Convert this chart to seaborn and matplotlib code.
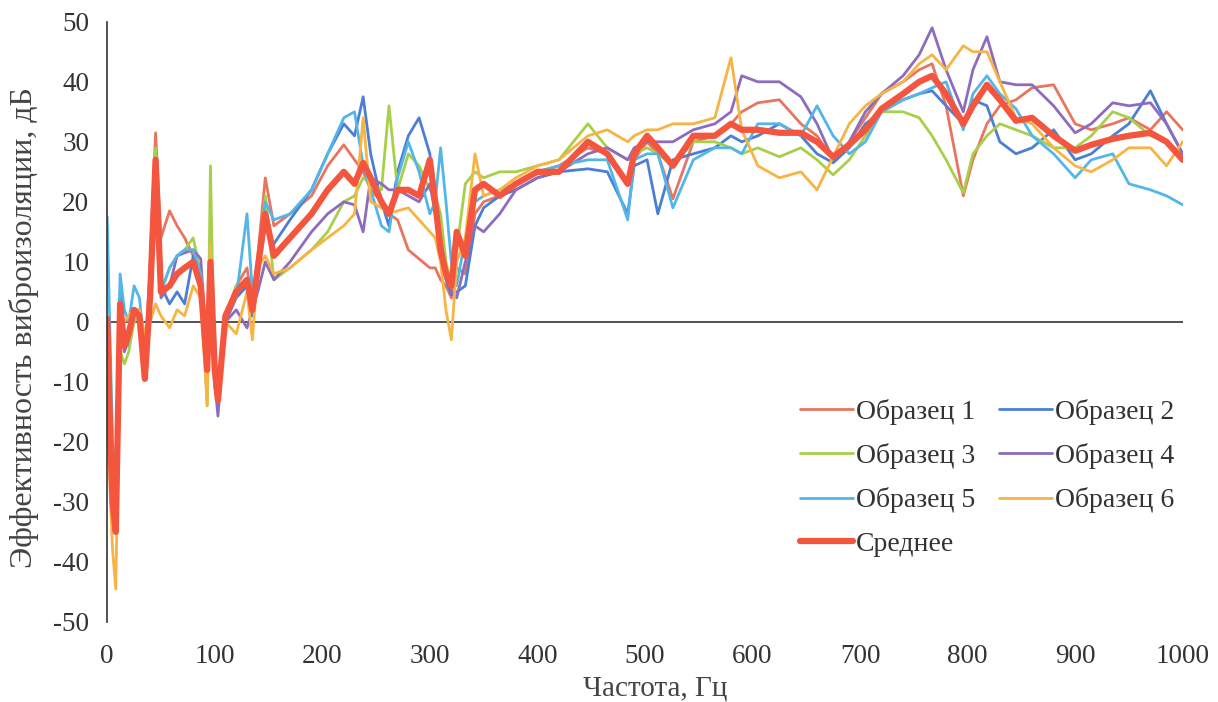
import numpy as np
import pandas as pd
import seaborn as sns
from matplotlib import pyplot as plt

# Frequency grid, Hz (shared by all curves)
freq = [0, 3, 5, 8, 12, 16, 20, 25, 30, 35,
        40, 45, 50, 58, 65, 72, 80, 87, 93, 96,
        100, 103, 110, 120, 130, 135, 140, 147, 155, 170,
        190, 205, 220, 230, 238, 245, 255, 262, 270, 280,
        290, 300, 305, 310, 315, 320, 325, 333, 342, 350,
        365, 380, 400, 420, 447, 465, 484, 490, 502, 512,
        526, 545, 565, 580, 590, 605, 625, 645, 660, 675,
        690, 705, 720, 740, 755, 767, 780, 796, 805, 818,
        830, 845, 860, 880, 900, 915, 935, 950, 970, 985,
        1000]

sample1 = [-5, -22, -30, -33, 4, -3, -1, 2, 2, -8,
           10, 31.5, 14, 18.5, 16, 14, 11, 6, -7, 9,
           -8, -12, 1, 6, 9, 3, 11, 24, 16, 18,
           21, 26, 29.5, 27, 25, 22, 20, 18, 17, 12,
           10.5, 9, 9, 7, 6, 4, 9, 8, 18, 20,
           21, 23, 25, 26, 29, 28, 23, 27, 30, 28,
           20.5, 30, 31, 33, 35, 36.5, 37, 33, 31, 27,
           30, 34, 38, 40, 42, 43, 36, 21, 27, 33,
           36, 37, 39, 39.5, 33, 32, 33, 34, 32, 35,
           32]

sample2 = [0, -18, -28, -30, 5, -3, -4, 1, 2, -7,
           3, 27, 6, 3, 5, 3, 11, 7, -9, 9,
           -9, -14, 0, 4, 6, 1, 8, 16, 13, 17,
           22, 28, 33, 31, 37.5, 28, 20, 16, 25, 31,
           34, 28, 20, 11, 7, 4.5, 5, 6, 16, 19,
           21, 22, 24, 25, 25.5, 25, 18, 26, 27, 18,
           27, 28, 29, 31, 30, 31, 33, 31, 28, 26.5,
           29, 33, 35, 37, 38, 38.5, 36, 33, 37, 36,
           30, 28, 29, 32, 27, 28, 31, 33, 38.5, 33,
           28]

sample3 = [-2, -15, -25, -30, -5, -7, -5, 0, 1, -6,
           3, 29, 5, 9, 11, 12, 14, 8, -14, 26,
           -10, -13, 0, 6, 7, 3, 8, 21, 7, 9,
           12, 15, 20, 21, 24, 23, 22, 36, 22, 28,
           26, 22, 21, 18, 10, 6, 12, 23, 25, 24,
           25, 25, 26, 27, 33, 29, 27, 28, 29, 28,
           26, 30, 30, 29, 28, 29, 27.5, 29, 27, 24.5,
           27, 31, 35, 35, 34, 31, 27, 21.5, 28, 31,
           33, 32, 31, 29, 29, 31, 35, 34, 31, 30,
           28]

sample4 = [-5, -25, -33, -28, 3, -5, -3, 1, 2, -8,
           4, 25, 4, 6, 11, 11.5, 12, 10.5, -6, 5,
           -10, -15.7, 0, 2, -1, 2, 5, 10, 7, 10,
           15, 18, 20, 19.5, 15, 24, 23, 22, 22, 21,
           20, 23, 18, 14, 8, 5, 4, 10, 16, 15,
           18, 22, 24, 25, 28, 29, 27, 29, 30, 30,
           30, 32, 33, 35, 41, 40, 40, 37.5, 33, 27,
           30, 35, 38, 41, 44.5, 49, 42, 35, 42, 47.5,
           40, 39.5, 39.5, 36, 31.5, 33, 36.5, 36, 36.5, 33,
           28]

sample5 = [17.5, -5, -20, -25, 8, 2, 0, 6, 4, -5,
           5, 27, 5, 9, 11, 12, 12, 8, -9, 8,
           -11, -13, 1, 4, 18, 5, 10, 20, 17, 18,
           22, 28, 34, 35, 26, 22, 16, 15, 24, 30,
           25, 18, 20, 29, 20, 10, 6, 14, 20, 21,
           22, 23, 25, 26, 27, 27, 17, 27, 28, 28,
           19, 27, 29, 29, 28, 33, 33, 31, 36, 31,
           28, 30, 35, 37, 38, 39, 40, 32, 38, 41,
           38, 35.5, 31, 28, 24, 27, 28, 23, 22, 21,
           19.5]

sample6 = [-10, -30, -38, -44.5, -2, 0, 1, 2, 2, -2,
           0, 3, 1, -1, 2, 1, 6, 4, -14, 13,
           -9, -12, 0, -2, 5, -3, 9, 11, 8, 9,
           12, 14, 16, 18, 34, 20, 19, 18, 18.5, 19,
           17, 15, 14, 10, 2, -3, 10, 14, 28, 21,
           22, 24, 26, 27, 31, 32, 30, 31, 32, 32,
           33, 33, 34, 44, 32, 26, 24, 25, 22, 27.5,
           33, 36, 38, 40, 43, 44.5, 42, 46, 45, 45,
           40, 34, 33, 29, 26, 25, 27, 29, 29, 26,
           30]

mean_curve = [0.5, -20, -30, -35, 3, -4, -2, 2, 1, -9.5,
              4.5, 27, 5, 6, 8, 9, 10, 6, -8, 10,
              -8, -13, 1, 5, 7, 2, 9, 18, 11, 14,
              18, 22, 25, 23, 26.5, 24, 20, 18, 22, 22,
              21, 27, 20, 12, 8, 6, 15, 11, 22, 23,
              21, 23, 25, 25, 30, 28, 23, 28, 31, 29,
              26, 31, 31, 33, 32, 32, 31.5, 31.5, 30, 27.5,
              29.5, 32, 35.5, 38, 40, 41, 38, 33, 36, 39.5,
              37, 33.5, 34, 31, 28.5, 29.5, 30.5, 31, 31.5, 30,
              27]

names = ["Образец 1", "Образец 2", "Образец 3", "Образец 4", "Образец 5", "Образец 6"]
colors = ["#E8755F", "#4C7ED3", "#A8CF4A", "#8D6CC0", "#52B7E8", "#F7B445"]

sns.set_style("white")
plt.rcParams["font.family"] = ["Liberation Serif", "DejaVu Serif"]
plt.rcParams["axes.unicode_minus"] = False

# long table for seaborn
series = [sample1, sample2, sample3, sample4, sample5, sample6]
frames = [pd.DataFrame({"f": freq, "v": s, "name": n}) for s, n in zip(series, names)]
df = pd.concat(frames, ignore_index=True)
df_mean = pd.DataFrame({"f": freq, "v": mean_curve, "name": "Среднее"})

fig, ax = plt.subplots(figsize=(12.18, 7.02), dpi=100)
fig.subplots_adjust(left=0.088, right=0.971, top=0.969, bottom=0.114)

sns.lineplot(data=df, x="f", y="v", hue="name", palette=colors, linewidth=2.0,
             estimator=None, ax=ax)
sns.lineplot(data=df_mean, x="f", y="v", color="#F4553F", linewidth=4.5,
             estimator=None, label="Среднее", ax=ax)

ax.axhline(0, color="#333333", linewidth=1.2, zorder=0)

ax.set_xlim(0, 1000)
ax.set_ylim(-50, 50)
ax.set_xticks(range(0, 1001, 100))
ax.set_yticks(range(-50, 51, 10))
ax.tick_params(axis="both", length=0, labelsize=19.5, colors="#333333")
ax.tick_params(axis="x", pad=16)
ax.tick_params(axis="y", pad=13)

for side in ["top", "right", "bottom"]:
    ax.spines[side].set_visible(False)
ax.spines["left"].set_color("#333333")
ax.spines["left"].set_linewidth(1.2)

ax.set_xlabel("Частота, Гц", fontsize=21, color="#444444")
ax.set_ylabel("Эффективность виброизоляции, дБ", fontsize=23, color="#444444")
ax.xaxis.set_label_coords(0.51, -0.09)
ax.yaxis.set_label_coords(-0.063, 0.49)

# legend row-wise in two columns
handles, labels = ax.get_legend_handles_labels()
order = [0, 2, 4, 6, 1, 3, 5]
ax.legend([handles[i] for i in order], [labels[i] for i in order],
          ncol=2, loc="upper left", bbox_to_anchor=(0.644, 0.372), frameon=False,
          borderaxespad=0, borderpad=0,
          fontsize=20, handlelength=1.9, handletextpad=0.12, columnspacing=0.85,
          labelspacing=0.66, labelcolor="#333333")

plt.savefig("out.png", dpi=100)
plt.close()
